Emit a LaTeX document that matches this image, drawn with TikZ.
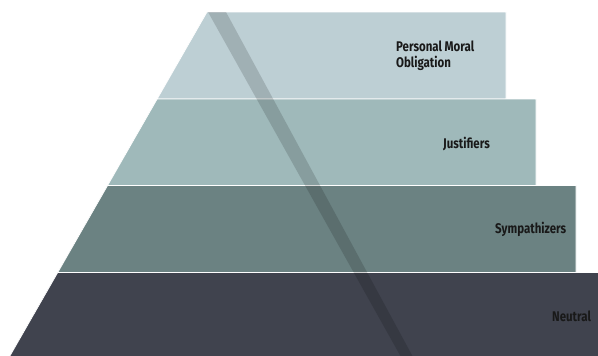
\documentclass[tikz,border=0pt]{standalone}
\usepackage{fontspec}
\newfontfamily\tierfont[FakeStretch=0.82]{Fira Sans}
\definecolor{tierA}{RGB}{189,207,212}
\definecolor{tierB}{RGB}{159,185,186}
\definecolor{tierC}{RGB}{107,130,130}
\definecolor{tierD}{RGB}{64,67,78}
\tikzset{
  tier/.style={draw=white, line width=0.7pt},
  tierlabel/.style={anchor=west, align=left, inner sep=0pt, text=black!90,
    font=\tierfont\bfseries\fontsize{14}{16}\selectfont},
}
\begin{document}
\begin{tikzpicture}[x=1pt, y=-1pt]
% page frame
\useasboundingbox (0,0) rectangle (598,356);

% layers: top y, bottom y, right x, colour
\foreach \ytop/\ybot/\xr/\col in {12/99/506/tierA, 99/185.5/536/tierB, 185.5/272.5/576/tierC, 272.5/357/599/tierD}{
  \fill[tier, fill=\col] ({207-0.573*(\ytop-12)},\ytop) -- (\xr,\ytop)
    -- (\xr,\ybot) -- ({207-0.573*(\ybot-12)},\ybot) -- cycle;
}

% diagonal band
\fill[black, opacity=0.15] (208,12) -- (226,12) -- (413,357) -- (401,357) -- cycle;

% labels
\node[tierlabel] (moral) at (396,56) {Personal Moral\\Obligation};
\node[tierlabel] (just) at (443,144) {Justifiers};
\node[tierlabel] (symp) at (495,229) {Sympathizers};
\node[tierlabel] (neut) at (552,316) {Neutral};
\end{tikzpicture}
\end{document}
